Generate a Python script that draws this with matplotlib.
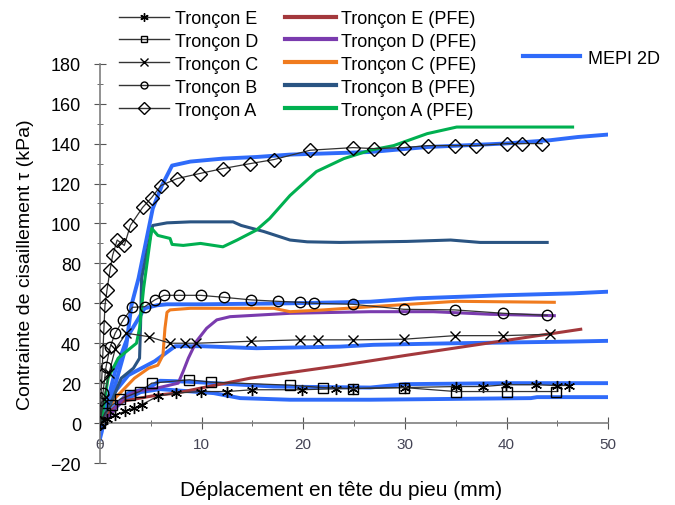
"""
plot.py
purpose: shear stress vs pile head displacement - test data, PFE and MEPI 2D curves.
"""

import matplotlib
matplotlib.use("Agg")
import matplotlib.pyplot as plt
from matplotlib.lines import Line2D
from matplotlib.ticker import MultipleLocator

plt.rcParams.update({
    "font.family": ["Liberation Sans", "DejaVu Sans"],
    "axes.facecolor": "white",
})

# measured curves (Tronçon A..E)
exp_a_x = [0, 0.1, 0.2, 0.3, 0.4, 0.5, 0.7, 1.0, 1.25, 1.7, 2.4, 3.0, 4.2, 5.1, 6.0, 7.6, 9.8,
           12.1, 14.8, 17.1, 20.7, 24.9, 27.0, 29.9, 32.3, 34.9, 37.0, 40.0, 41.5, 43.5]
exp_a_y = [0, 12, 24, 36, 48, 59, 66.7, 76.7, 84, 91.7, 89, 99, 108, 113, 119, 122.5, 125,
           127.5, 130, 132, 136.7, 138, 137.5, 138, 139, 139, 139, 140, 140, 140]

exp_b_x = [0, 0.3, 0.6, 1.0, 1.5, 2.3, 3.2, 4.4, 5.4, 6.3, 7.8, 9.9, 12.2, 14.9, 17.5, 19.7,
           21.1, 24.9, 29.9, 34.9, 39.7, 44.0]
exp_b_y = [0, 15, 28, 38, 45, 51.7, 58, 58.3, 61.7, 64, 64, 64, 63, 61.7, 61, 60.5,
           60, 59.5, 57, 56.7, 55, 54]

exp_c_x = [0, 0.4, 0.9, 1.5, 2.6, 4.8, 6.9, 8.4, 9.5, 14.9, 19.7, 21.5, 24.9, 29.9, 34.9, 39.7, 44.3]
exp_c_y = [0, 12, 25, 37, 45, 43.3, 40, 40, 40, 41, 41.7, 41.7, 41.7, 42, 43.8, 43.8, 44.5]

exp_d_x = [0, 0.5, 1.2, 2.0, 3.0, 3.9, 5.1, 8.8, 10.9, 18.7, 21.9, 24.9, 29.9, 35.0, 40.0, 44.9]
exp_d_y = [0, 5, 9, 12, 14, 15.8, 20, 21.7, 20.5, 19, 17.8, 17.3, 17.8, 15.8, 15.8, 15.8]

exp_e_x = [0, 0.7, 1.5, 2.5, 3.4, 4.1, 5.7, 7.5, 9.9, 12.5, 15.0, 19.9, 23.2, 24.9, 30.0,
           35.0, 37.7, 39.9, 42.9, 45.0, 46.1]
exp_e_y = [0, 2, 4, 6, 7.5, 9.2, 13.5, 15, 15.8, 15.8, 16.7, 16.7, 17.2, 17.3, 17.8,
           18.3, 18.3, 19.2, 19.2, 18.8, 18.8]

# PFE curves
pfe_a_x = [0, 0.3, 0.8, 1.8, 2.8, 3.6, 3.9, 4.3, 5.1, 5.7, 6.9, 7.1, 8.2, 9.9, 12.1, 13.5,
           15.4, 16.7, 18.7, 21.3, 24.0, 26.6, 28.9, 32.2, 35.1, 46.5]
pfe_a_y = [0, 6, 22.5, 32.5, 36.7, 40, 47.5, 67.5, 97.5, 94, 92.5, 89.5, 89, 90, 88.3, 91.7,
           96.7, 102.5, 114, 126, 132.5, 136.7, 139, 145, 148.3, 148.3]

pfe_b_x = [0, 1.0, 2.1, 3.3, 3.9, 4.0, 4.1, 4.6, 5.2, 6.6, 8.9, 13.1, 13.9, 16.1, 18.7,
           20.4, 23.6, 30.2, 34.5, 37.4, 44.0]
pfe_b_y = [0, 9, 22.5, 27.5, 32.5, 49, 72.5, 85, 99, 100.3, 100.8, 100.8, 99, 96, 91.7,
           90.8, 90.5, 91, 91.7, 90.5, 90.5]

pfe_c_x = [0, 0.3, 1.5, 3.4, 4.8, 5.7, 6.2, 6.4, 6.6, 6.9, 8.9, 17.1, 18.7, 22.0, 26.6, 35.1, 44.7]
pfe_c_y = [0, 3, 12.5, 22.5, 27.5, 29, 34, 47.5, 55.5, 56.7, 57.5, 57.5, 55.8, 56.7, 58.3, 61, 60.5]

pfe_d_x = [0, 1.0, 2.3, 3.6, 5.6, 7.7, 8.2, 8.7, 9.5, 10.5, 11.5, 12.8, 18.7, 26.6, 32.8, 38.4, 44.7]
pfe_d_y = [0, 4, 12.5, 16, 17.5, 20, 26, 32.5, 41, 47.5, 51.7, 53.3, 55, 55.8, 55.8, 54.5, 53.8]

pfe_e_x = [0, 1.0, 2.3, 5.6, 7.5, 9.9, 14.8, 23.6, 30.2, 47.3]
pfe_e_y = [0, 5.8, 11, 14, 15, 17.5, 22.5, 28.8, 34, 47]

# MEPI 2D curves
mepi1_x = [0, 0.2, 0.5, 1.5, 2.6, 3.1, 3.8, 4.4, 5.2, 6.1, 7.1, 8.9, 12.1, 15.4, 18.7, 26.6,
           32.2, 39.7, 44.3, 47.0, 49.9]
mepi1_y = [-8, -4, 6, 19, 39, 59, 72.5, 87.5, 107.5, 119, 129, 131, 132.5, 133.3, 134.5, 135.8,
           138.3, 140, 141.7, 143.3, 144.5]

mepi2_x = [0, 0.5, 1.5, 2.8, 4.4, 5.6, 6.6, 10.0, 18.7, 26.6, 31.2, 39.4, 46.6, 49.9]
mepi2_y = [0, 6, 26, 44, 57.5, 59, 59.5, 59.5, 60, 60.8, 62.5, 64, 65, 65.8]

mepi3_x = [0, 1.2, 2.8, 5.4, 7.4, 10.0, 15.4, 23.6, 26.9, 35.0, 46.0, 50.0]
mepi3_y = [0, 14, 24, 31, 38.5, 38.5, 37.5, 38.3, 39.2, 40, 40.8, 41.2]

mepi4_x = [0, 1.0, 2.8, 4.8, 5.9, 7.4, 9.5, 17.1, 26.6, 30.0, 40.0, 50.0]
mepi4_y = [0, 6, 15, 17.5, 21.2, 21, 20.5, 18.3, 17.8, 19.5, 20, 20]

mepi5_x = [0, 1.0, 2.0, 3.0, 4.0, 5.9, 11.2, 13.8, 18.7, 26.6, 42.4, 43.0, 50.0]
mepi5_y = [0, 5, 10, 13, 15.5, 17, 15, 12.5, 11.7, 11.7, 12.5, 13, 13]

SERIES = ["E", "D", "C", "B", "A"]
EXP = {"A": (exp_a_x, exp_a_y, "D"), "B": (exp_b_x, exp_b_y, "o"), "C": (exp_c_x, exp_c_y, "x"),
       "D": (exp_d_x, exp_d_y, "s"), "E": (exp_e_x, exp_e_y, (6, 2, 0))}
PFE = {"A": (pfe_a_x, pfe_a_y, "#00B050"), "B": (pfe_b_x, pfe_b_y, "#2A5482"),
       "C": (pfe_c_x, pfe_c_y, "#F07B1E"), "D": (pfe_d_x, pfe_d_y, "#7A3BAE"),
       "E": (pfe_e_x, pfe_e_y, "#A3383C")}
MEPI = [(mepi1_x, mepi1_y), (mepi2_x, mepi2_y), (mepi3_x, mepi3_y), (mepi4_x, mepi4_y), (mepi5_x, mepi5_y)]
BLUE = "#2F6BFA"

fig = plt.figure(figsize=(6.75, 5.06), dpi=100)
ax = fig.add_axes([0.148, 0.083, 0.753, 0.789])

for mx, my in MEPI:
    ax.plot(mx, my, color=BLUE, lw=2.8, zorder=1, solid_joinstyle="round")

for s in SERIES:
    px, py, c = PFE[s]
    ax.plot(px, py, color=c, lw=2.2, zorder=2)

for s in SERIES:
    ex, ey, m = EXP[s]
    ms = {"o": 7.5, "x": 7, "s": 7, "D": 7}.get(m, 8) if isinstance(m, str) else 8
    ax.plot(ex, ey, color="#333333", lw=0.9, marker=m, ms=ms, mfc="none", mec="black",
            mew=1.0, zorder=3)

ax.set_xlim(0, 50)
ax.set_ylim(-20, 180)
for sp in ("top", "right"):
    ax.spines[sp].set_visible(False)
ax.spines["bottom"].set_position(("data", 0))
for sp in ("left", "bottom"):
    ax.spines[sp].set_color("#7f7f7f")
    ax.spines[sp].set_linewidth(1.2)
ax.xaxis.set_major_locator(MultipleLocator(10))
ax.xaxis.set_minor_locator(MultipleLocator(5))
ax.yaxis.set_major_locator(MultipleLocator(20))
ax.yaxis.set_minor_locator(MultipleLocator(10))
ax.tick_params(axis="both", which="both", direction="inout", color="#555555")
ax.tick_params(axis="y", which="major", length=9, labelsize=13, pad=9)
ax.tick_params(axis="y", which="minor", length=5)
ax.tick_params(axis="x", which="major", length=8, labelsize=11, labelcolor="#444455", pad=6)
ax.tick_params(axis="x", which="minor", length=5)

ax.set_ylabel("Contrainte de cisaillement τ (kPa)", fontsize=14, labelpad=12)
fig.text(0.505, 0.012, "Déplacement en tête du pieu (mm)", fontsize=15, ha="center", va="bottom")

# legend: test curves in the first column, PFE in the second
handles, labels = [], []
for s in SERIES:
    m = EXP[s][2]
    ms = 5 if m in ("o", "s") else 6
    handles.append(Line2D([], [], color="#333333", lw=1.0, marker=m, ms=ms, mfc="none", mec="black"))
    labels.append("Tronçon " + s)
for s in SERIES:
    handles.append(Line2D([], [], color=PFE[s][2], lw=3))
    labels.append("Tronçon " + s + " (PFE)")
fig.legend(handles, labels, ncol=2, loc="upper left", bbox_to_anchor=(0.16, 1.0),
           frameon=False, fontsize=13, handlelength=2.8, labelspacing=0.33,
           columnspacing=1.5, handletextpad=0.3, borderaxespad=0.2)

fig.legend([Line2D([], [], color=BLUE, lw=3)], ["MEPI 2D"], loc="upper left",
           bbox_to_anchor=(0.75, 0.932), frameon=False, fontsize=13, handlelength=3.2,
           handletextpad=0.4)

fig.savefig("out.png", dpi=100)
